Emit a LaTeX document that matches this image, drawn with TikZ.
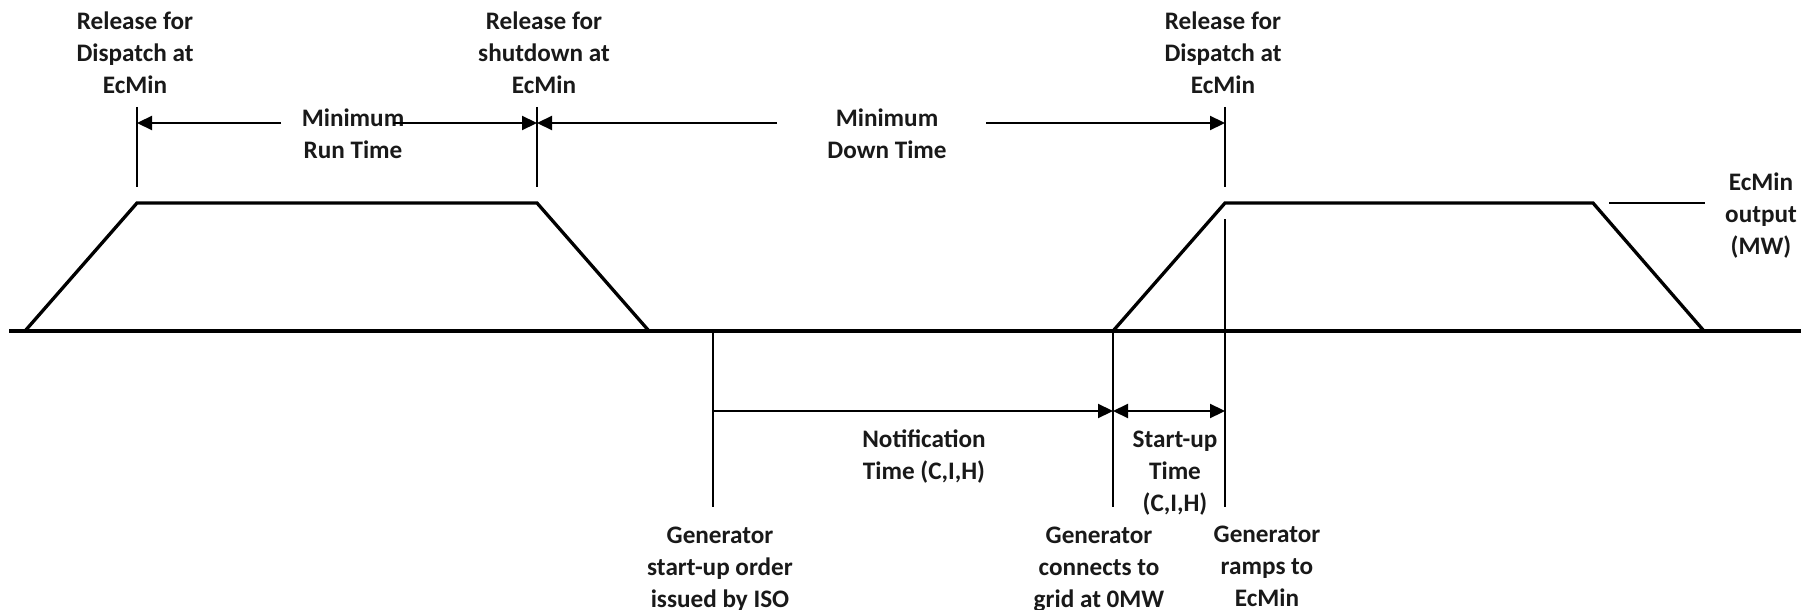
\documentclass[tikz,border=0pt]{standalone}
\usepackage{fontspec}
\setmainfont{Carlito}
\usetikzlibrary{arrows.meta}
\begin{document}
\begin{tikzpicture}[x=0.5pt,y=-0.5pt,
  lbl/.style={font=\bfseries\fontsize{12.6}{16}\selectfont, align=center, inner sep=0pt, text=black!90},
  heavy/.style={line width=1.65pt, line join=miter},
  guide/.style={line width=0.85pt},
  tick/.style={line width=1pt},
  dim/.style={line width=1.1pt, -{Triangle[length=7.5pt,width=7pt]}},
  dimboth/.style={line width=1.1pt, {Triangle[length=7.5pt,width=7pt]}-{Triangle[length=7.5pt,width=7pt]}}
]
\useasboundingbox (0,0) rectangle (1816,610);

% baseline
\coordinate (b0) at (9,331);
\coordinate (b1) at (1801,331);
\draw[heavy] (b0) -- (b1);

% first output block
\coordinate (t1a) at (25,331);
\coordinate (t1b) at (137,203);
\coordinate (t1c) at (537,203);
\coordinate (t1d) at (649,331);
\draw[heavy] (t1a) -- (t1b) -- (t1c) -- (t1d);

% second output block
\coordinate (t2a) at (1113,331);
\coordinate (t2b) at (1225,203);
\coordinate (t2c) at (1593,203);
\coordinate (t2d) at (1704,331);
\draw[heavy] (t2a) -- (t2b) -- (t2c) -- (t2d);

% EcMin level tick
\coordinate (e1) at (1609,203);
\coordinate (e2) at (1705,203);
\draw[tick] (e1) -- (e2);

% guide lines
\coordinate (g1t) at (137,107);  \coordinate (g1b) at (137,187);
\coordinate (g2t) at (537,107);  \coordinate (g2b) at (537,187);
\coordinate (g3t) at (1225,107); \coordinate (g3b) at (1225,187);
\coordinate (g3c) at (1225,219); \coordinate (g3d) at (1225,507);
\coordinate (g4t) at (713,331);  \coordinate (g4b) at (713,507);
\coordinate (g5t) at (1113,331); \coordinate (g5b) at (1113,507);
\draw[guide] (g1t) -- (g1b);
\draw[guide] (g2t) -- (g2b);
\draw[guide] (g3t) -- (g3b);
\draw[guide] (g3c) -- (g3d);
\draw[guide] (g4t) -- (g4b);
\draw[guide] (g5t) -- (g5b);

% labels
\node[lbl] (rel1) at (135,52.5) {Release for\\Dispatch at\\EcMin};
\node[lbl] (rel2) at (544,52.5) {Release for\\shutdown at\\EcMin};
\node[lbl] (rel3) at (1223,52.5) {Release for\\Dispatch at\\EcMin};
\node[lbl] (mrt) at (353,134) {Minimum\\Run Time};
\node[lbl] (mdt) at (887,134) {Minimum\\Down Time};
\node[lbl] (ecm) at (1761,216) {EcMin\\output\\(MW)};
\node[lbl] (ntt) at (924,456.5) {Notification\\Time (C,I,H)};
\node[lbl] (sut) at (1175,473) {Start-up\\Time\\(C,I,H)};
\node[lbl] (gso) at (720,569) {Generator\\start-up order\\issued by ISO};
\node[lbl] (gcg) at (1099,569) {Generator\\connects to\\grid at 0MW};
\node[lbl] (grm) at (1267,566) {Generator\\ramps to\\EcMin};

% dimension arrows
\coordinate (a1s) at (281,123);  \coordinate (a1e) at (137,123);
\coordinate (a2s) at (393,123);  \coordinate (a2e) at (537,123);
\coordinate (a3s) at (777,123);
\coordinate (a4s) at (986,123);  \coordinate (a4e) at (1225,123);
\draw[dim] (a1s) -- (a1e);
\draw[dim] (a2s) -- (a2e);
\draw[dim] (a3s) -- (a2e);
\draw[dim] (a4s) -- (a4e);

\coordinate (n1) at (713,411);
\coordinate (n2) at (1113,411);
\coordinate (n3) at (1225,411);
\draw[dim] (n1) -- (n2);
\draw[dimboth] (n2) -- (n3);
\end{tikzpicture}
\end{document}
